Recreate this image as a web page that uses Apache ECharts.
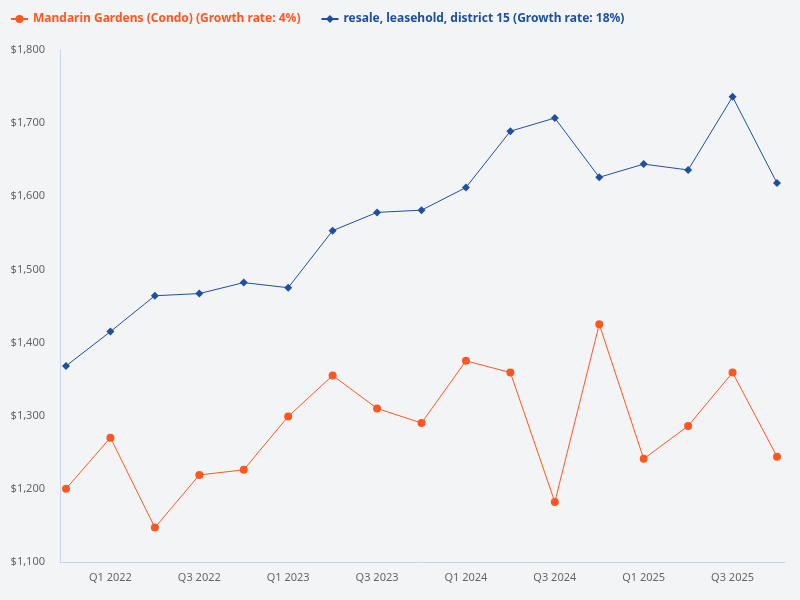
<!DOCTYPE html>
<html><head><meta charset="utf-8">
<script src="https://cdn.jsdelivr.net/npm/echarts@6/dist/echarts.min.js"></script>
<style>html,body{margin:0;padding:0;background:#f3f4f6}#c{width:800px;height:600px}</style>
</head><body><div id="c"></div>
<script>
const categories = ['Q4 2021','Q1 2022','Q2 2022','Q3 2022','Q4 2022','Q1 2023','Q2 2023','Q3 2023','Q4 2023','Q1 2024','Q2 2024','Q3 2024','Q4 2024','Q1 2025','Q2 2025','Q3 2025','Q4 2025'];
const mandarin = [1200,1270,1147,1219,1226,1299,1355,1310,1290,1375,1359,1182,1425,1241,1286,1359,1244];
const district15 = [1368,1415,1464,1467,1482,1475,1553,1578,1581,1612,1689,1707,1626,1644,1636,1736,1618];
const labelIdx = [1,3,5,7,9,11,13,15];
const font = '"Noto Sans", "Open Sans", sans-serif';
const chart = echarts.init(document.getElementById('c'));
chart.setOption({
  backgroundColor: '#f3f4f6',
  textStyle: {fontFamily: font},
  legend: {
    left: 5, top: 8, itemWidth: 17, itemHeight: 10, itemGap: 20,
    textStyle: {fontFamily: font, fontSize: 12, fontWeight: 'bold'},
    data: [
      {name: 'Mandarin Gardens (Condo) (Growth rate: 4%)', textStyle: {color: '#ff5722'}},
      {name: 'resale, leasehold, district 15 (Growth rate: 18%)', textStyle: {color: '#1f4fa0'}}
    ]
  },
  grid: {left: 60, right: 15, top: 50, bottom: 38},
  xAxis: {
    type: 'value', min: -0.135, max: 16.18,
    splitLine: {show: false},
    axisLine: {show: true, onZero: false, lineStyle: {color: '#c9d3ea'}},
    axisTick: {show: false},
    axisLabel: {customValues: labelIdx, formatter: v => categories[Math.round(v)] || '', color: '#666', fontSize: 11, margin: 10, fontFamily: font}
  },
  yAxis: {
    type: 'value', min: 1100, max: 1800, interval: 100,
    splitLine: {show: false},
    axisLine: {show: true, onZero: false, lineStyle: {color: '#c9d3ea'}},
    axisTick: {show: false},
    axisLabel: {formatter: v => '$' + v.toLocaleString('en-US'), color: '#666', fontSize: 11, margin: 15, fontFamily: font}
  },
  series: [
    {name: 'Mandarin Gardens (Condo) (Growth rate: 4%)', type: 'line', data: mandarin.map((v,i)=>[i,v]),
     symbol: 'circle', symbolSize: 8, color: '#ff5722', lineStyle: {width: 1}},
    {name: 'resale, leasehold, district 15 (Growth rate: 18%)', type: 'line', data: district15.map((v,i)=>[i,v]),
     symbol: 'diamond', symbolSize: 8, color: '#1f4fa0', lineStyle: {width: 1}}
  ]
});
</script></body></html>
